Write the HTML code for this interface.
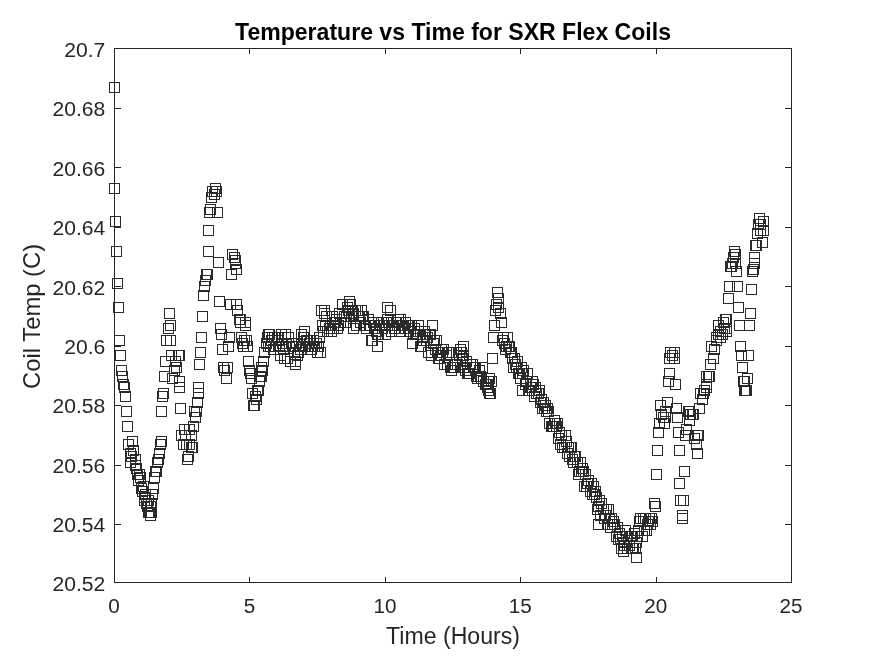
<!DOCTYPE html><html><head><meta charset="utf-8"><title>Temperature vs Time for SXR Flex Coils</title>
<style>html,body{margin:0;padding:0;background:#fff}svg{display:block}text{font-family:"Liberation Sans",sans-serif}</style></head><body>
<svg width="875" height="656" viewBox="0 0 875 656">
<rect width="875" height="656" fill="#fff"/>
<g fill="none" stroke="#2a2a2a" stroke-width="1" shape-rendering="crispEdges">
<path d="M109.5 82.5h10v10h-10zM109.5 183.5h10v10h-10zM110.5 216.5h10v10h-10zM111.5 246.5h10v10h-10zM112.5 278.5h10v10h-10zM113.5 302.5h10v10h-10zM114.5 335.5h10v10h-10zM115.5 350.5h10v10h-10zM116.5 365.5h10v10h-10zM117.5 371.5h10v10h-10zM118.5 379.5h10v10h-10zM119.5 382.5h10v10h-10zM120.5 391.5h10v10h-10zM121.5 406.5h10v10h-10zM122.5 421.5h10v10h-10zM123.5 439.5h10v10h-10zM125.5 448.5h10v10h-10zM125.5 457.5h10v10h-10zM126.5 451.5h10v10h-10zM127.5 436.5h10v10h-10zM128.5 445.5h10v10h-10zM130.5 460.5h10v10h-10zM130.5 454.5h10v10h-10zM131.5 463.5h10v10h-10zM132.5 469.5h10v10h-10zM133.5 475.5h10v10h-10zM134.5 469.5h10v10h-10zM135.5 472.5h10v10h-10zM136.5 483.5h10v10h-10zM137.5 486.5h10v10h-10zM138.5 481.5h10v10h-10zM139.5 492.5h10v10h-10zM139.5 495.5h10v10h-10zM140.5 489.5h10v10h-10zM141.5 498.5h10v10h-10zM142.5 501.5h10v10h-10zM143.5 495.5h10v10h-10zM143.5 507.5h10v10h-10zM144.5 507.5h10v10h-10zM145.5 501.5h10v10h-10zM145.5 510.5h10v10h-10zM146.5 507.5h10v10h-10zM146.5 498.5h10v10h-10zM147.5 489.5h10v10h-10zM148.5 483.5h10v10h-10zM149.5 472.5h10v10h-10zM149.5 472.5h10v10h-10zM150.5 466.5h10v10h-10zM151.5 466.5h10v10h-10zM152.5 457.5h10v10h-10zM152.5 457.5h10v10h-10zM153.5 454.5h10v10h-10zM154.5 448.5h10v10h-10zM155.5 439.5h10v10h-10zM155.5 439.5h10v10h-10zM156.5 436.5h10v10h-10zM156.5 406.5h10v10h-10zM157.5 391.5h10v10h-10zM158.5 388.5h10v10h-10zM159.5 371.5h10v10h-10zM160.5 356.5h10v10h-10zM161.5 335.5h10v10h-10zM163.5 323.5h10v10h-10zM164.5 308.5h10v10h-10zM165.5 320.5h10v10h-10zM165.5 335.5h10v10h-10zM166.5 350.5h10v10h-10zM167.5 373.5h10v10h-10zM169.5 365.5h10v10h-10zM170.5 356.5h10v10h-10zM171.5 362.5h10v10h-10zM173.5 350.5h10v10h-10zM174.5 350.5h10v10h-10zM174.5 376.5h10v10h-10zM174.5 382.5h10v10h-10zM175.5 403.5h10v10h-10zM176.5 430.5h10v10h-10zM178.5 439.5h10v10h-10zM179.5 424.5h10v10h-10zM180.5 430.5h10v10h-10zM181.5 439.5h10v10h-10zM182.5 454.5h10v10h-10zM183.5 451.5h10v10h-10zM184.5 424.5h10v10h-10zM184.5 439.5h10v10h-10zM186.5 442.5h10v10h-10zM186.5 430.5h10v10h-10zM187.5 442.5h10v10h-10zM188.5 421.5h10v10h-10zM189.5 406.5h10v10h-10zM190.5 412.5h10v10h-10zM191.5 406.5h10v10h-10zM192.5 397.5h10v10h-10zM193.5 388.5h10v10h-10zM193.5 382.5h10v10h-10zM194.5 359.5h10v10h-10zM195.5 347.5h10v10h-10zM196.5 332.5h10v10h-10zM197.5 311.5h10v10h-10zM198.5 290.5h10v10h-10zM199.5 281.5h10v10h-10zM200.5 275.5h10v10h-10zM201.5 269.5h10v10h-10zM202.5 269.5h10v10h-10zM203.5 246.5h10v10h-10zM203.5 225.5h10v10h-10zM204.5 207.5h10v10h-10zM205.5 204.5h10v10h-10zM206.5 192.5h10v10h-10zM207.5 186.5h10v10h-10zM209.5 189.5h10v10h-10zM210.5 183.5h10v10h-10zM211.5 186.5h10v10h-10zM212.5 207.5h10v10h-10zM213.5 257.5h10v10h-10zM214.5 296.5h10v10h-10zM215.5 323.5h10v10h-10zM216.5 329.5h10v10h-10zM217.5 344.5h10v10h-10zM218.5 362.5h10v10h-10zM219.5 365.5h10v10h-10zM221.5 373.5h10v10h-10zM222.5 362.5h10v10h-10zM223.5 341.5h10v10h-10zM224.5 332.5h10v10h-10zM225.5 299.5h10v10h-10zM226.5 269.5h10v10h-10zM227.5 249.5h10v10h-10zM229.5 252.5h10v10h-10zM230.5 255.5h10v10h-10zM230.5 258.5h10v10h-10zM231.5 264.5h10v10h-10zM231.5 299.5h10v10h-10zM232.5 305.5h10v10h-10zM234.5 314.5h10v10h-10zM235.5 314.5h10v10h-10zM235.5 317.5h10v10h-10zM236.5 332.5h10v10h-10zM237.5 338.5h10v10h-10zM238.5 341.5h10v10h-10zM239.5 335.5h10v10h-10zM240.5 320.5h10v10h-10zM240.5 317.5h10v10h-10zM241.5 335.5h10v10h-10zM242.5 341.5h10v10h-10zM243.5 356.5h10v10h-10zM244.5 365.5h10v10h-10zM245.5 368.5h10v10h-10zM246.5 373.5h10v10h-10zM247.5 388.5h10v10h-10zM248.5 400.5h10v10h-10zM249.5 400.5h10v10h-10zM250.5 391.5h10v10h-10zM251.5 394.5h10v10h-10zM252.5 385.5h10v10h-10zM253.5 385.5h10v10h-10zM254.5 376.5h10v10h-10zM255.5 371.5h10v10h-10zM256.5 371.5h10v10h-10zM256.5 362.5h10v10h-10zM257.5 365.5h10v10h-10zM258.5 356.5h10v10h-10zM259.5 347.5h10v10h-10zM261.5 338.5h10v10h-10zM262.5 332.5h10v10h-10zM263.5 341.5h10v10h-10zM264.5 329.5h10v10h-10zM265.5 341.5h10v10h-10zM266.5 335.5h10v10h-10zM267.5 332.5h10v10h-10zM268.5 344.5h10v10h-10zM269.5 332.5h10v10h-10zM270.5 341.5h10v10h-10zM272.5 332.5h10v10h-10zM273.5 335.5h10v10h-10zM274.5 341.5h10v10h-10zM275.5 350.5h10v10h-10zM276.5 329.5h10v10h-10zM277.5 338.5h10v10h-10zM278.5 344.5h10v10h-10zM279.5 353.5h10v10h-10zM280.5 341.5h10v10h-10zM281.5 338.5h10v10h-10zM282.5 353.5h10v10h-10zM283.5 332.5h10v10h-10zM285.5 356.5h10v10h-10zM286.5 338.5h10v10h-10zM287.5 341.5h10v10h-10zM288.5 341.5h10v10h-10zM289.5 347.5h10v10h-10zM290.5 356.5h10v10h-10zM291.5 338.5h10v10h-10zM292.5 350.5h10v10h-10zM293.5 347.5h10v10h-10zM294.5 341.5h10v10h-10zM295.5 344.5h10v10h-10zM296.5 329.5h10v10h-10zM298.5 332.5h10v10h-10zM299.5 332.5h10v10h-10zM300.5 341.5h10v10h-10zM301.5 335.5h10v10h-10zM302.5 335.5h10v10h-10zM303.5 341.5h10v10h-10zM304.5 338.5h10v10h-10zM305.5 335.5h10v10h-10zM306.5 344.5h10v10h-10zM307.5 341.5h10v10h-10zM308.5 335.5h10v10h-10zM309.5 341.5h10v10h-10zM311.5 338.5h10v10h-10zM312.5 347.5h10v10h-10zM313.5 341.5h10v10h-10zM314.5 332.5h10v10h-10zM315.5 347.5h10v10h-10zM316.5 305.5h10v10h-10zM317.5 320.5h10v10h-10zM318.5 326.5h10v10h-10zM319.5 308.5h10v10h-10zM320.5 320.5h10v10h-10zM321.5 311.5h10v10h-10zM322.5 326.5h10v10h-10zM324.5 323.5h10v10h-10zM325.5 320.5h10v10h-10zM326.5 326.5h10v10h-10zM327.5 311.5h10v10h-10zM328.5 323.5h10v10h-10zM329.5 317.5h10v10h-10zM330.5 317.5h10v10h-10zM331.5 314.5h10v10h-10zM332.5 323.5h10v10h-10zM333.5 320.5h10v10h-10zM334.5 308.5h10v10h-10zM335.5 317.5h10v10h-10zM337.5 299.5h10v10h-10zM338.5 317.5h10v10h-10zM339.5 311.5h10v10h-10zM340.5 317.5h10v10h-10zM341.5 311.5h10v10h-10zM342.5 302.5h10v10h-10zM343.5 305.5h10v10h-10zM344.5 308.5h10v10h-10zM345.5 299.5h10v10h-10zM346.5 311.5h10v10h-10zM347.5 305.5h10v10h-10zM348.5 308.5h10v10h-10zM350.5 305.5h10v10h-10zM351.5 320.5h10v10h-10zM352.5 305.5h10v10h-10zM353.5 311.5h10v10h-10zM354.5 311.5h10v10h-10zM355.5 317.5h10v10h-10zM356.5 305.5h10v10h-10zM357.5 311.5h10v10h-10zM358.5 311.5h10v10h-10zM359.5 320.5h10v10h-10zM360.5 320.5h10v10h-10zM361.5 323.5h10v10h-10zM363.5 314.5h10v10h-10zM364.5 320.5h10v10h-10zM365.5 320.5h10v10h-10zM366.5 335.5h10v10h-10zM367.5 335.5h10v10h-10zM368.5 317.5h10v10h-10zM369.5 323.5h10v10h-10zM370.5 323.5h10v10h-10zM371.5 326.5h10v10h-10zM372.5 329.5h10v10h-10zM373.5 329.5h10v10h-10zM374.5 320.5h10v10h-10zM376.5 317.5h10v10h-10zM377.5 323.5h10v10h-10zM378.5 317.5h10v10h-10zM379.5 320.5h10v10h-10zM380.5 329.5h10v10h-10zM381.5 317.5h10v10h-10zM382.5 314.5h10v10h-10zM383.5 317.5h10v10h-10zM384.5 320.5h10v10h-10zM385.5 305.5h10v10h-10zM386.5 326.5h10v10h-10zM387.5 320.5h10v10h-10zM389.5 323.5h10v10h-10zM390.5 323.5h10v10h-10zM391.5 317.5h10v10h-10zM392.5 320.5h10v10h-10zM393.5 314.5h10v10h-10zM394.5 326.5h10v10h-10zM395.5 314.5h10v10h-10zM396.5 320.5h10v10h-10zM397.5 320.5h10v10h-10zM398.5 320.5h10v10h-10zM399.5 323.5h10v10h-10zM400.5 317.5h10v10h-10zM402.5 320.5h10v10h-10zM403.5 323.5h10v10h-10zM404.5 320.5h10v10h-10zM405.5 326.5h10v10h-10zM406.5 320.5h10v10h-10zM407.5 338.5h10v10h-10zM408.5 329.5h10v10h-10zM409.5 323.5h10v10h-10zM410.5 329.5h10v10h-10zM411.5 329.5h10v10h-10zM412.5 329.5h10v10h-10zM413.5 326.5h10v10h-10zM415.5 341.5h10v10h-10zM416.5 341.5h10v10h-10zM417.5 332.5h10v10h-10zM418.5 335.5h10v10h-10zM419.5 326.5h10v10h-10zM420.5 329.5h10v10h-10zM421.5 335.5h10v10h-10zM422.5 332.5h10v10h-10zM423.5 347.5h10v10h-10zM424.5 329.5h10v10h-10zM425.5 329.5h10v10h-10zM426.5 350.5h10v10h-10zM428.5 338.5h10v10h-10zM429.5 335.5h10v10h-10zM430.5 344.5h10v10h-10zM431.5 335.5h10v10h-10zM432.5 347.5h10v10h-10zM433.5 353.5h10v10h-10zM434.5 353.5h10v10h-10zM435.5 350.5h10v10h-10zM436.5 344.5h10v10h-10zM437.5 347.5h10v10h-10zM438.5 344.5h10v10h-10zM439.5 359.5h10v10h-10zM441.5 350.5h10v10h-10zM442.5 359.5h10v10h-10zM443.5 347.5h10v10h-10zM444.5 347.5h10v10h-10zM445.5 362.5h10v10h-10zM446.5 365.5h10v10h-10zM447.5 362.5h10v10h-10zM448.5 362.5h10v10h-10zM449.5 362.5h10v10h-10zM450.5 359.5h10v10h-10zM451.5 347.5h10v10h-10zM452.5 359.5h10v10h-10zM454.5 350.5h10v10h-10zM455.5 344.5h10v10h-10zM456.5 347.5h10v10h-10zM457.5 353.5h10v10h-10zM458.5 350.5h10v10h-10zM459.5 362.5h10v10h-10zM460.5 365.5h10v10h-10zM461.5 356.5h10v10h-10zM462.5 368.5h10v10h-10zM463.5 368.5h10v10h-10zM464.5 368.5h10v10h-10zM465.5 359.5h10v10h-10zM467.5 359.5h10v10h-10zM468.5 362.5h10v10h-10zM469.5 362.5h10v10h-10zM470.5 362.5h10v10h-10zM471.5 371.5h10v10h-10zM472.5 373.5h10v10h-10zM473.5 371.5h10v10h-10zM474.5 365.5h10v10h-10zM475.5 371.5h10v10h-10zM476.5 373.5h10v10h-10zM477.5 362.5h10v10h-10zM478.5 376.5h10v10h-10zM480.5 379.5h10v10h-10zM481.5 379.5h10v10h-10zM482.5 379.5h10v10h-10zM483.5 376.5h10v10h-10zM484.5 373.5h10v10h-10zM485.5 388.5h10v10h-10zM486.5 376.5h10v10h-10zM487.5 353.5h10v10h-10zM488.5 332.5h10v10h-10zM489.5 320.5h10v10h-10zM490.5 305.5h10v10h-10zM491.5 299.5h10v10h-10zM492.5 287.5h10v10h-10zM493.5 293.5h10v10h-10zM493.5 302.5h10v10h-10zM495.5 308.5h10v10h-10zM496.5 317.5h10v10h-10zM497.5 335.5h10v10h-10zM498.5 332.5h10v10h-10zM499.5 338.5h10v10h-10zM500.5 344.5h10v10h-10zM501.5 341.5h10v10h-10zM502.5 332.5h10v10h-10zM503.5 341.5h10v10h-10zM504.5 341.5h10v10h-10zM505.5 347.5h10v10h-10zM506.5 347.5h10v10h-10zM507.5 353.5h10v10h-10zM508.5 362.5h10v10h-10zM509.5 353.5h10v10h-10zM510.5 359.5h10v10h-10zM511.5 362.5h10v10h-10zM512.5 356.5h10v10h-10zM513.5 368.5h10v10h-10zM514.5 368.5h10v10h-10zM515.5 373.5h10v10h-10zM516.5 362.5h10v10h-10zM517.5 368.5h10v10h-10zM518.5 365.5h10v10h-10zM520.5 379.5h10v10h-10zM521.5 376.5h10v10h-10zM522.5 368.5h10v10h-10zM523.5 385.5h10v10h-10zM524.5 385.5h10v10h-10zM525.5 382.5h10v10h-10zM526.5 382.5h10v10h-10zM527.5 376.5h10v10h-10zM528.5 379.5h10v10h-10zM529.5 391.5h10v10h-10zM530.5 382.5h10v10h-10zM531.5 388.5h10v10h-10zM533.5 388.5h10v10h-10zM534.5 385.5h10v10h-10zM535.5 397.5h10v10h-10zM536.5 394.5h10v10h-10zM537.5 403.5h10v10h-10zM538.5 397.5h10v10h-10zM539.5 403.5h10v10h-10zM540.5 400.5h10v10h-10zM541.5 406.5h10v10h-10zM542.5 403.5h10v10h-10zM543.5 406.5h10v10h-10zM544.5 418.5h10v10h-10zM546.5 421.5h10v10h-10zM547.5 421.5h10v10h-10zM548.5 421.5h10v10h-10zM549.5 415.5h10v10h-10zM550.5 418.5h10v10h-10zM551.5 421.5h10v10h-10zM552.5 418.5h10v10h-10zM553.5 433.5h10v10h-10zM554.5 427.5h10v10h-10zM555.5 439.5h10v10h-10zM556.5 430.5h10v10h-10zM557.5 442.5h10v10h-10zM559.5 442.5h10v10h-10zM560.5 430.5h10v10h-10zM561.5 436.5h10v10h-10zM562.5 448.5h10v10h-10zM563.5 442.5h10v10h-10zM564.5 451.5h10v10h-10zM565.5 442.5h10v10h-10zM566.5 442.5h10v10h-10zM567.5 454.5h10v10h-10zM568.5 457.5h10v10h-10zM569.5 451.5h10v10h-10zM570.5 451.5h10v10h-10zM572.5 457.5h10v10h-10zM573.5 469.5h10v10h-10zM574.5 466.5h10v10h-10zM575.5 457.5h10v10h-10zM576.5 466.5h10v10h-10zM577.5 463.5h10v10h-10zM578.5 466.5h10v10h-10zM579.5 481.5h10v10h-10zM580.5 469.5h10v10h-10zM581.5 481.5h10v10h-10zM582.5 478.5h10v10h-10zM583.5 475.5h10v10h-10zM585.5 486.5h10v10h-10zM586.5 478.5h10v10h-10zM587.5 489.5h10v10h-10zM588.5 481.5h10v10h-10zM589.5 489.5h10v10h-10zM590.5 486.5h10v10h-10zM591.5 492.5h10v10h-10zM592.5 504.5h10v10h-10zM593.5 501.5h10v10h-10zM594.5 495.5h10v10h-10zM595.5 510.5h10v10h-10zM596.5 498.5h10v10h-10zM598.5 504.5h10v10h-10zM599.5 513.5h10v10h-10zM600.5 510.5h10v10h-10zM601.5 504.5h10v10h-10zM602.5 519.5h10v10h-10zM603.5 504.5h10v10h-10zM604.5 513.5h10v10h-10zM605.5 522.5h10v10h-10zM606.5 513.5h10v10h-10zM607.5 519.5h10v10h-10zM608.5 516.5h10v10h-10zM609.5 519.5h10v10h-10zM611.5 531.5h10v10h-10zM612.5 522.5h10v10h-10zM613.5 534.5h10v10h-10zM614.5 528.5h10v10h-10zM615.5 534.5h10v10h-10zM616.5 543.5h10v10h-10zM617.5 531.5h10v10h-10zM618.5 537.5h10v10h-10zM619.5 540.5h10v10h-10zM620.5 525.5h10v10h-10zM621.5 531.5h10v10h-10zM622.5 543.5h10v10h-10zM624.5 540.5h10v10h-10zM625.5 531.5h10v10h-10zM626.5 531.5h10v10h-10zM627.5 543.5h10v10h-10zM628.5 543.5h10v10h-10zM629.5 528.5h10v10h-10zM630.5 543.5h10v10h-10zM631.5 537.5h10v10h-10zM632.5 531.5h10v10h-10zM633.5 525.5h10v10h-10zM634.5 516.5h10v10h-10zM635.5 513.5h10v10h-10zM637.5 531.5h10v10h-10zM638.5 513.5h10v10h-10zM639.5 525.5h10v10h-10zM640.5 513.5h10v10h-10zM641.5 525.5h10v10h-10zM642.5 519.5h10v10h-10zM643.5 516.5h10v10h-10zM644.5 513.5h10v10h-10zM645.5 519.5h10v10h-10zM646.5 513.5h10v10h-10zM647.5 516.5h10v10h-10zM290.5 359.5h10v10h-10zM372.5 341.5h10v10h-10zM593.5 519.5h10v10h-10zM631.5 552.5h10v10h-10zM618.5 546.5h10v10h-10zM344.5 296.5h10v10h-10zM517.5 385.5h10v10h-10zM382.5 302.5h10v10h-10zM413.5 320.5h10v10h-10zM427.5 320.5h10v10h-10zM458.5 341.5h10v10h-10zM348.5 323.5h10v10h-10zM319.5 305.5h10v10h-10zM263.5 329.5h10v10h-10zM280.5 329.5h10v10h-10zM299.5 326.5h10v10h-10zM484.5 388.5h10v10h-10zM483.5 385.5h10v10h-10zM482.5 382.5h10v10h-10zM649.5 498.5h10v10h-10zM650.5 501.5h10v10h-10zM651.5 469.5h10v10h-10zM652.5 445.5h10v10h-10zM653.5 427.5h10v10h-10zM654.5 418.5h10v10h-10zM655.5 400.5h10v10h-10zM656.5 409.5h10v10h-10zM658.5 412.5h10v10h-10zM659.5 418.5h10v10h-10zM660.5 412.5h10v10h-10zM660.5 406.5h10v10h-10zM662.5 397.5h10v10h-10zM663.5 376.5h10v10h-10zM664.5 368.5h10v10h-10zM664.5 353.5h10v10h-10zM665.5 347.5h10v10h-10zM667.5 350.5h10v10h-10zM669.5 353.5h10v10h-10zM669.5 347.5h10v10h-10zM670.5 379.5h10v10h-10zM671.5 403.5h10v10h-10zM672.5 412.5h10v10h-10zM673.5 427.5h10v10h-10zM674.5 445.5h10v10h-10zM674.5 478.5h10v10h-10zM675.5 495.5h10v10h-10zM677.5 510.5h10v10h-10zM677.5 513.5h10v10h-10zM678.5 495.5h10v10h-10zM679.5 466.5h10v10h-10zM680.5 430.5h10v10h-10zM681.5 424.5h10v10h-10zM683.5 406.5h10v10h-10zM684.5 415.5h10v10h-10zM684.5 406.5h10v10h-10zM685.5 409.5h10v10h-10zM687.5 409.5h10v10h-10zM688.5 409.5h10v10h-10zM689.5 433.5h10v10h-10zM691.5 439.5h10v10h-10zM692.5 430.5h10v10h-10zM692.5 448.5h10v10h-10zM693.5 430.5h10v10h-10zM694.5 403.5h10v10h-10zM695.5 388.5h10v10h-10zM697.5 394.5h10v10h-10zM698.5 388.5h10v10h-10zM699.5 385.5h10v10h-10zM701.5 379.5h10v10h-10zM701.5 382.5h10v10h-10zM701.5 371.5h10v10h-10zM704.5 371.5h10v10h-10zM703.5 371.5h10v10h-10zM705.5 359.5h10v10h-10zM706.5 341.5h10v10h-10zM708.5 353.5h10v10h-10zM709.5 344.5h10v10h-10zM711.5 335.5h10v10h-10zM711.5 332.5h10v10h-10zM713.5 329.5h10v10h-10zM713.5 320.5h10v10h-10zM715.5 332.5h10v10h-10zM715.5 326.5h10v10h-10zM717.5 329.5h10v10h-10zM718.5 317.5h10v10h-10zM719.5 323.5h10v10h-10zM721.5 323.5h10v10h-10zM721.5 326.5h10v10h-10zM721.5 314.5h10v10h-10zM720.5 314.5h10v10h-10zM723.5 293.5h10v10h-10zM724.5 281.5h10v10h-10zM725.5 261.5h10v10h-10zM726.5 261.5h10v10h-10zM727.5 258.5h10v10h-10zM728.5 252.5h10v10h-10zM729.5 246.5h10v10h-10zM730.5 258.5h10v10h-10zM730.5 249.5h10v10h-10zM731.5 266.5h10v10h-10zM732.5 281.5h10v10h-10zM733.5 302.5h10v10h-10zM734.5 320.5h10v10h-10zM735.5 341.5h10v10h-10zM736.5 350.5h10v10h-10zM737.5 362.5h10v10h-10zM738.5 376.5h10v10h-10zM739.5 376.5h10v10h-10zM739.5 385.5h10v10h-10zM740.5 385.5h10v10h-10zM741.5 385.5h10v10h-10zM742.5 373.5h10v10h-10zM743.5 350.5h10v10h-10zM744.5 320.5h10v10h-10zM745.5 308.5h10v10h-10zM746.5 284.5h10v10h-10zM747.5 266.5h10v10h-10zM748.5 264.5h10v10h-10zM749.5 252.5h10v10h-10zM749.5 258.5h10v10h-10zM750.5 240.5h10v10h-10zM751.5 240.5h10v10h-10zM752.5 228.5h10v10h-10zM753.5 219.5h10v10h-10zM754.5 213.5h10v10h-10zM755.5 219.5h10v10h-10zM755.5 225.5h10v10h-10zM757.5 237.5h10v10h-10zM758.5 225.5h10v10h-10zM758.5 216.5h10v10h-10z"/>
</g>
<g stroke="#262626" stroke-width="1" fill="none" shape-rendering="crispEdges">
<rect x="114.5" y="48.5" width="677.0" height="534.0"/>
<path d="M249.9 582.5v-5.5 M249.9 48.5v5.5"/>
<path d="M385.3 582.5v-5.5 M385.3 48.5v5.5"/>
<path d="M520.7 582.5v-5.5 M520.7 48.5v5.5"/>
<path d="M656.1 582.5v-5.5 M656.1 48.5v5.5"/>
<path d="M114.5 524.7h6.8 M791.5 524.7h-6.8"/>
<path d="M114.5 465.2h6.8 M791.5 465.2h-6.8"/>
<path d="M114.5 405.8h6.8 M791.5 405.8h-6.8"/>
<path d="M114.5 346.3h6.8 M791.5 346.3h-6.8"/>
<path d="M114.5 286.9h6.8 M791.5 286.9h-6.8"/>
<path d="M114.5 227.4h6.8 M791.5 227.4h-6.8"/>
<path d="M114.5 167.9h6.8 M791.5 167.9h-6.8"/>
<path d="M114.5 108.5h6.8 M791.5 108.5h-6.8"/>
</g>
<g fill="#262626" font-size="20.7px">
<text x="114.1" y="612.7" text-anchor="middle">0</text>
<text x="249.5" y="612.7" text-anchor="middle">5</text>
<text x="384.9" y="612.7" text-anchor="middle">10</text>
<text x="520.3" y="612.7" text-anchor="middle">15</text>
<text x="655.7" y="612.7" text-anchor="middle">20</text>
<text x="791.1" y="612.7" text-anchor="middle">25</text>
<text x="105.3" y="590.8" text-anchor="end" font-size="21.1px">20.52</text>
<text x="105.3" y="532.2" text-anchor="end" font-size="21.1px">20.54</text>
<text x="105.3" y="472.8" text-anchor="end" font-size="21.1px">20.56</text>
<text x="105.3" y="413.4" text-anchor="end" font-size="21.1px">20.58</text>
<text x="105.3" y="353.9" text-anchor="end" font-size="21.1px">20.6</text>
<text x="105.3" y="294.5" text-anchor="end" font-size="21.1px">20.62</text>
<text x="105.3" y="235.0" text-anchor="end" font-size="21.1px">20.64</text>
<text x="105.3" y="175.5" text-anchor="end" font-size="21.1px">20.66</text>
<text x="105.3" y="116.1" text-anchor="end" font-size="21.1px">20.68</text>
<text x="105.3" y="56.6" text-anchor="end" font-size="21.1px">20.7</text>
</g>
<text x="453" y="644" text-anchor="middle" font-size="23.1px" fill="#262626">Time (Hours)</text>
<text transform="translate(40.4 316.4) rotate(-90)" text-anchor="middle" font-size="23.8px" fill="#262626">Coil Temp (C)</text>
<text x="453" y="39.6" text-anchor="middle" font-size="23.05px" font-weight="bold" fill="#000">Temperature vs Time for SXR Flex Coils</text>
</svg></body></html>
